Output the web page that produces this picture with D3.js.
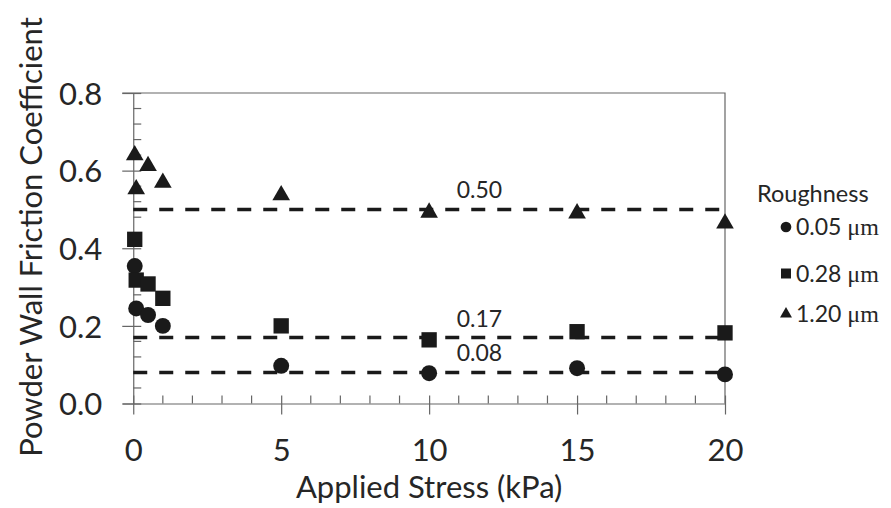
<!DOCTYPE html>
<html><head><meta charset="utf-8">
<script src="https://cdn.jsdelivr.net/npm/d3@7"></script>
<style>body{margin:0;background:#fff}svg{display:block}text{font-family:Lato,"Open Sans",sans-serif;fill:#262626}</style>
</head><body><svg id="c" width="891" height="508"></svg>
<script>
// ---- data ----
const stress = [0.05, 0.1, 0.5, 1, 5, 10, 15, 20];
const mu005 = [0.354, 0.245, 0.228, 0.200, 0.097, 0.078, 0.091, 0.075];
const mu028 = [0.423, 0.318, 0.308, 0.271, 0.200, 0.164, 0.185, 0.182];
const mu120 = [0.640, 0.552, 0.612, 0.569, 0.537, 0.492, 0.490, 0.464];
const seriesNames = ["0.05", "0.28", "1.20"];
const averages = [0.08, 0.17, 0.50];
const averageLabels = ["0.08", "0.17", "0.50"];
const xTicks = [0, 5, 10, 15, 20];
const yTicks = [0.0, 0.2, 0.4, 0.6, 0.8];

const svg = d3.select("#c");
const x = d3.scaleLinear().domain([-0.37, 20]).range([122.3, 725]);
const y = d3.scaleLinear().domain([0, 0.8]).range([403.5, 93]);
const axisCol = "#666";
const AX_FS = 31;

// plot frame (top & right)
svg.append("path").attr("d", `M${x.range()[0]},${y(0.8)}H${x(20)}V${y(0)}`)
  .attr("fill","none").attr("stroke",axisCol).attr("stroke-width",1.2);

// x axis
const gx = svg.append("g").attr("transform",`translate(0,${y(0)})`);
gx.call(d3.axisBottom(x).tickValues(xTicks).tickSize(11).tickSizeOuter(0).tickFormat(d3.format("d")));
gx.select(".domain").attr("stroke",axisCol).attr("stroke-width",1.2);
gx.selectAll(".tick line").attr("stroke",axisCol).attr("stroke-width",1.2).attr("y1",-8);
gx.selectAll(".tick text").attr("font-size",AX_FS).attr("font-family","Lato").attr("fill","#262626").attr("y",null).attr("dy",null)
  .attr("transform","translate(0,57)");
const xMinor = d3.range(1, 20).filter(v => v % 5 !== 0);
gx.selectAll(".minor").data(xMinor).join("line").attr("class","minor")
  .attr("x1",d=>x(d)).attr("x2",d=>x(d)).attr("y1",0).attr("y2",-8)
  .attr("stroke",axisCol).attr("stroke-width",1.2);

// y axis at x = 0
const gy = svg.append("g").attr("transform",`translate(${x(0)},0)`);
gy.call(d3.axisLeft(y).tickValues(yTicks).tickSize(11).tickSizeOuter(0).tickFormat(d3.format(".1f")));
gy.select(".domain").attr("stroke",axisCol).attr("stroke-width",1.2);
gy.selectAll(".tick line").attr("stroke",axisCol).attr("stroke-width",1.2).attr("x1",8);
gy.selectAll(".tick text").attr("font-size",AX_FS).attr("font-family","Lato").attr("fill","#262626").attr("x",-31).attr("dy","0.36em");
const yMinor = d3.range(0.04, 0.8, 0.04).filter(v => Math.abs(v/0.2 - Math.round(v/0.2)) > 1e-6);
gy.selectAll(".minor").data(yMinor).join("line").attr("class","minor")
  .attr("x1",0).attr("x2",8).attr("y1",d=>y(d)).attr("y2",d=>y(d))
  .attr("stroke",axisCol).attr("stroke-width",1.2);

// axis titles
svg.append("text").attr("x",(x(0)+x(20))/2).attr("y",498).attr("text-anchor","middle")
  .attr("font-size",AX_FS).text("Applied Stress (kPa)");
svg.append("text").attr("transform",`translate(42,237) rotate(-90)`).attr("text-anchor","middle")
  .attr("font-size",AX_FS).text("Powder Wall Friction Coefficient");

// average dashed lines
averages.forEach((a,i)=>{
  svg.append("line").attr("x1",x(0)).attr("x2",x(20)).attr("y1",y(a)).attr("y2",y(a))
    .attr("stroke","#1a1a1a").attr("stroke-width",3.5).attr("stroke-dasharray","14,12");
  svg.append("text").attr("x",x(11.7)).attr("y",y(a)-11).attr("text-anchor","middle")
    .attr("font-size",23).text(averageLabels[i]);
});

// markers
const symbols = [d3.symbolCircle, d3.symbolSquare, d3.symbolTriangle];
const sizes = [200, 235, 135];
const allSeries = [mu005, mu028, mu120];
allSeries.forEach((vals,i)=>{
  svg.append("g").selectAll("path").data(vals).join("path")
    .attr("transform",(d,j)=>`translate(${x(stress[j])},${y(d)})`)
    .attr("d", d3.symbol().type(symbols[i]).size(sizes[i]))
    .attr("fill","#1a1a1a");
});

// legend
svg.append("text").attr("x",757).attr("y",201.5).attr("font-size",23.5).text("Roughness");
const legY = [227, 273.5, 314];
const legSizes = [90, 100, 62];
seriesNames.forEach((n,i)=>{
  svg.append("path").attr("transform",`translate(786,${legY[i]})`)
    .attr("d", d3.symbol().type(symbols[i]).size(legSizes[i])).attr("fill","#1a1a1a");
  const t = svg.append("text").attr("x",796).attr("y",legY[i]+8).attr("font-size",23);
  t.append("tspan").text(n + " ");
  t.append("tspan").attr("font-family","'Liberation Serif',serif").attr("font-size",24).text("μm");
});
</script></body></html>
